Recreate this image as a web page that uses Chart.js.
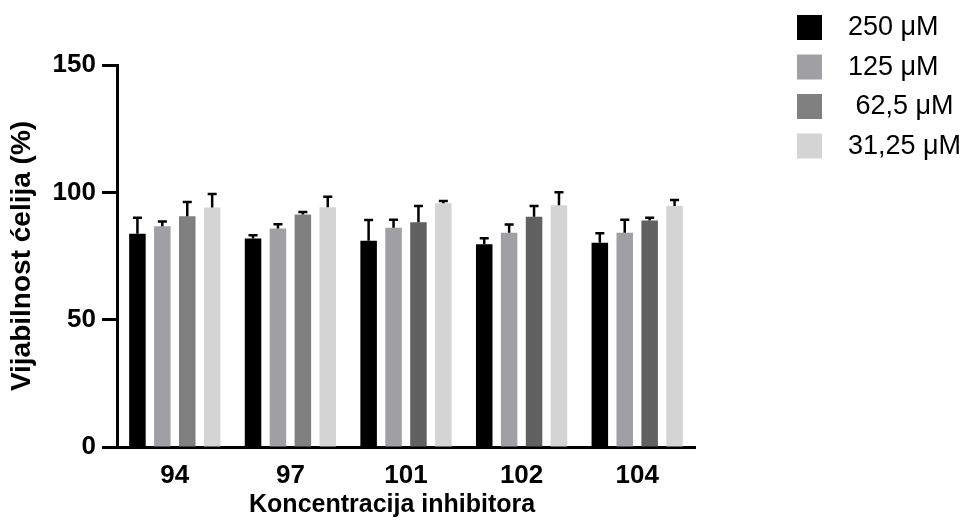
<!DOCTYPE html>
<html>
<head>
<meta charset="utf-8">
<script src="https://cdn.jsdelivr.net/npm/chart.js@4.4.0/dist/chart.umd.min.js"></script>
<style>
    body { margin: 0; background: #fff; }
    #wrap { width: 965px; height: 520px; }
</style>
</head>
<body>
<div id="wrap"><canvas id="chart" width="965" height="520"></canvas></div>
<script>
// data
let categories = ["94", "97", "101", "102", "104"];
let seriesNames = ["250 \u03bcM", "125 \u03bcM", " 62,5 \u03bcM", "31,25 \u03bcM"];

let v250 = [83.7, 81.9, 81.0, 79.6, 80.2];
let e250 = [6.3, 1.2, 8.1, 2.4, 3.7];
let v125 = [86.7, 85.8, 86.1, 84.1, 84.1];
let e125 = [1.8, 1.7, 3.1, 3.3, 5.1];
let v62 = [90.6, 91.3, 88.3, 90.4, 88.9];
let e62 = [5.6, 1.0, 6.3, 4.2, 1.1];
let v31 = [94.0, 94.1, 95.7, 94.9, 94.6];
let e31 = [5.3, 4.2, 0.9, 5.1, 2.4];

let yTicks = [0, 50, 100, 150];

const FONT = "'Liberation Sans', Arial, sans-serif";

// colours
let c250 = "#000000";
let c125 = "#a0a0a4";
let c62 = ["#808080", "#808080", "#616161", "#616161", "#616161"];
let c31 = "#d4d4d4";

// error bars (upper only), drawn via the y scale
const errorBars = {
    id: "errorBars",
    afterDatasetsDraw(chart) {
        let ctx = chart.ctx;
        let yScale = chart.scales.y;
        ctx.save();
        ctx.strokeStyle = "#000";
        ctx.lineWidth = 2.5;
        chart.data.datasets.forEach((ds, i) => {
            let meta = chart.getDatasetMeta(i);
            meta.data.forEach((bar, j) => {
                let top = yScale.getPixelForValue(ds.data[j] + ds.errors[j]);
                ctx.beginPath();
                ctx.moveTo(bar.x, bar.y);
                ctx.lineTo(bar.x, top);
                ctx.moveTo(bar.x - 4.5, top);
                ctx.lineTo(bar.x + 4.5, top);
                ctx.stroke();
            });
        });
        ctx.restore();
    }
};

// legend on the right, like the original
const sideLegend = {
    id: "sideLegend",
    afterDraw(chart) {
        let ctx = chart.ctx;
        ctx.save();
        ctx.font = "27px " + FONT;
        ctx.textBaseline = "middle";
        ctx.textAlign = "left";
        chart.data.datasets.forEach((ds, i) => {
            let y = 15 + i * 39.5;
            let col = Array.isArray(ds.backgroundColor) ? ds.backgroundColor[0] : ds.backgroundColor;
            ctx.fillStyle = col;
            ctx.fillRect(797, y, 25, 25);
            ctx.fillStyle = "#000";
            ctx.fillText(ds.label, 848, y + 13);
        });
        ctx.restore();
    }
};

function makeSet(i, values, errs, color) {
    return {
        label: seriesNames[i],
        data: values,
        errors: errs,
        backgroundColor: color,
        borderWidth: 0
    };
}

let ctx = document.getElementById("chart").getContext("2d");
let chart = new Chart(ctx, {
    type: "bar",
    data: {
        labels: categories,
        datasets: [
            makeSet(0, v250, e250, c250),
            makeSet(1, v125, e125, c125),
            makeSet(2, v62, e62, c62),
            makeSet(3, v31, e31, c31)
        ]
    },
    options: {
        responsive: false,
        animation: false,
        devicePixelRatio: 1,
        categoryPercentage: 0.862,
        barPercentage: 0.663,
        layout: {
            padding: {top: 65, right: 270, bottom: 0, left: 0}
        },
        plugins: {
            legend: {display: false},
            tooltip: {enabled: false}
        },
        scales: {
            x: {
                grid: {display: false},
                border: {display: true, color: "#000", width: 3},
                ticks: {
                    color: "#000",
                    font: {family: FONT, size: 26, weight: "bold"},
                    padding: 5
                },
                title: {
                    display: true,
                    // trailing nbsp pull the centred title a bit left, as in the original
                    text: "Koncentracija inhibitora\u00a0\u00a0\u00a0\u00a0",
                    color: "#000",
                    font: {family: FONT, size: 25, weight: "bold"},
                    padding: {top: 0, bottom: 0}
                },
                afterFit(scale) { scale.height = 73; }
            },
            y: {
                min: 0,
                max: 150,
                afterBuildTicks(scale) {
                    scale.ticks = yTicks.map(v => ({value: v}));
                },
                grid: {
                    drawOnChartArea: false,
                    drawTicks: true,
                    tickLength: 15,
                    tickWidth: 3,
                    tickColor: "#000"
                },
                border: {display: true, color: "#000", width: 3},
                ticks: {
                    color: "#000",
                    font: {family: FONT, size: 26, weight: "bold"},
                    padding: 6
                },
                title: {
                    display: true,
                    text: "Vijabilnost \u0107elija (%)",
                    color: "#000",
                    font: {family: FONT, size: 28, weight: "bold"},
                    padding: {top: 5, bottom: 0}
                },
                afterFit(scale) { scale.width = 117; }
            }
        }
    },
    plugins: [errorBars, sideLegend]
});
</script>
</body>
</html>
